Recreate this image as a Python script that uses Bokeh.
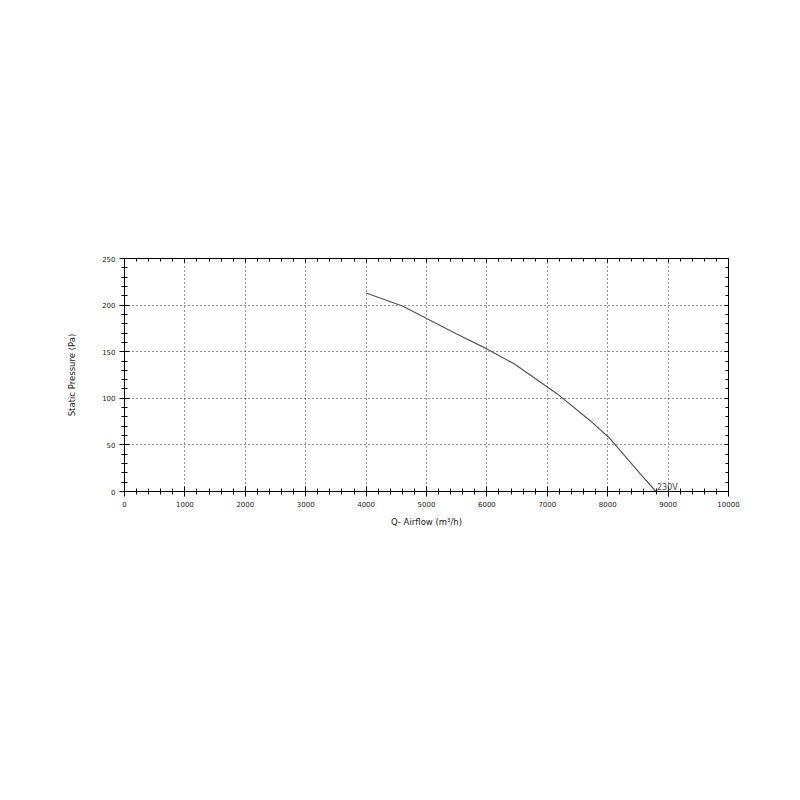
from bokeh.plotting import figure
from bokeh.models import (Range1d, LinearAxis, SingleIntervalTicker, CustomJSTickFormatter,
                          ColumnDataSource, Label, Grid)
from bokeh.embed import file_html
from bokeh.resources import INLINE

# Fan curve data (airflow m3/h, static pressure Pa)
airflow = [4000, 4600, 5500, 6000, 6450, 7000, 7160, 7710, 8020, 8540, 8800]
pressure = [213, 199, 169, 153, 137, 112, 105, 76, 58, 19, 0]
curve_label = "230V"

x_ticks_interval = 1000
y_ticks_interval = 50

p = figure(width=792, height=591, output_backend="svg", toolbar_location=None,
           x_range=Range1d(0, 10000), y_range=Range1d(0, 250),
           min_border_left=124, min_border_right=64, min_border_top=258, min_border_bottom=100,
           x_axis_type=None, y_axis_type=None)
p.outline_line_color = "black"
p.outline_line_width = 1
p.background_fill_color = "white"
p.border_fill_color = "white"

xt = SingleIntervalTicker(interval=x_ticks_interval, num_minor_ticks=5)
yt = SingleIntervalTicker(interval=y_ticks_interval, num_minor_ticks=5)

font = "DejaVu Sans"

xaxis = LinearAxis(ticker=xt, axis_label="Q- Airflow (m³/h)")
yaxis = LinearAxis(ticker=yt, axis_label="Static Pressure (Pa)")
for ax in (xaxis, yaxis):
    ax.axis_line_color = "black"
    ax.major_tick_line_color = "black"
    ax.minor_tick_line_color = "black"
    ax.major_tick_in = 5
    ax.major_tick_out = 5
    ax.minor_tick_in = 3
    ax.minor_tick_out = 3
    ax.major_label_text_font = font
    ax.major_label_text_font_size = "7px"
    ax.major_label_text_color = "#222222"
    ax.axis_label_text_font = font
    ax.axis_label_text_font_size = "8.5px"
    ax.axis_label_text_font_style = "normal"
    ax.axis_label_text_color = "#222222"
    ax.major_label_standoff = 4
xaxis.axis_label_standoff = 7
yaxis.axis_label_standoff = 22
p.add_layout(xaxis, "below")
p.add_layout(yaxis, "left")

blank = CustomJSTickFormatter(code="return ''")
top = LinearAxis(ticker=SingleIntervalTicker(interval=x_ticks_interval, num_minor_ticks=5), formatter=blank)
right = LinearAxis(ticker=SingleIntervalTicker(interval=y_ticks_interval, num_minor_ticks=5), formatter=blank)
for ax in (top, right):
    ax.axis_line_color = "black"
    ax.major_tick_in = 4
    ax.major_tick_out = 0
    ax.minor_tick_in = 3
    ax.minor_tick_out = 0
    ax.major_label_standoff = 0
p.add_layout(top, "above")
p.add_layout(right, "right")

xgrid = Grid(dimension=0, ticker=xt)
ygrid = Grid(dimension=1, ticker=yt)
for g in (xgrid, ygrid):
    g.grid_line_color = "black"
    g.grid_line_dash = "1 3"
    g.grid_line_alpha = 0.8
    p.add_layout(g, "center")

src = ColumnDataSource(dict(q=airflow, pa=pressure))
p.line("q", "pa", source=src, line_color="#555555", line_width=1.2)

p.add_layout(Label(x=airflow[-1], y=pressure[-1], text=curve_label, x_offset=1, y_offset=0,
                   text_font=font, text_font_size="8px", text_color="#444444",
                   text_baseline="bottom"))

open("out.html", "w").write(file_html(p, INLINE))
